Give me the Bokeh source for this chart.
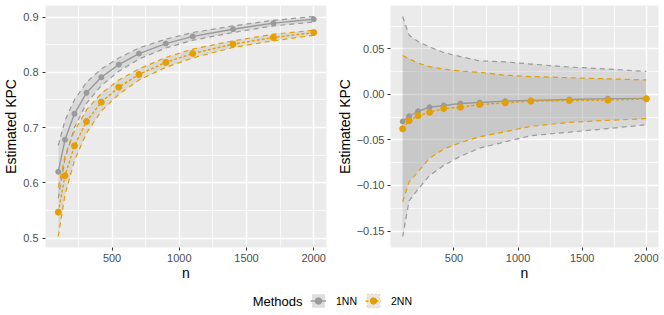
from bokeh.plotting import figure
from bokeh.models import (Range1d, FixedTicker, CustomJSTickFormatter, Legend,
                          LegendItem, Label, ColumnDataSource)
from bokeh.layouts import column, row
from bokeh.embed import file_html
from bokeh.resources import INLINE

# ---------------- data ----------------
n = [100, 150, 220, 310, 420, 550, 700, 900, 1100, 1400, 1700, 2000]

# left panel
kpc_1nn = [0.620, 0.678, 0.725, 0.763, 0.791, 0.814, 0.834, 0.852, 0.865, 0.878, 0.889, 0.896]
lo_1nn = [0.572, 0.643, 0.700, 0.744, 0.776, 0.802, 0.824, 0.844, 0.858, 0.872, 0.884, 0.891]
hi_1nn = [0.668, 0.713, 0.750, 0.782, 0.806, 0.826, 0.844, 0.860, 0.872, 0.884, 0.894, 0.901]
kpc_2nn = [0.547, 0.613, 0.667, 0.711, 0.746, 0.773, 0.796, 0.818, 0.834, 0.851, 0.863, 0.872]
lo_2nn = [0.503, 0.578, 0.640, 0.690, 0.730, 0.760, 0.786, 0.809, 0.826, 0.845, 0.857, 0.867]
hi_2nn = [0.592, 0.648, 0.694, 0.732, 0.762, 0.786, 0.806, 0.827, 0.842, 0.857, 0.869, 0.876]

# right panel
kpc_1nn_r = [-0.0297, -0.0240, -0.0185, -0.0141, -0.0122, -0.0100, -0.0089, -0.0074, -0.0067, -0.0056, -0.0047, -0.0044]
lo_1nn_r = [-0.1560, -0.1170, -0.1040, -0.0890, -0.0780, -0.0680, -0.0590, -0.0520, -0.0453, -0.0415, -0.0375, -0.0333]
hi_1nn_r = [0.0855, 0.0650, 0.0580, 0.0520, 0.0460, 0.0415, 0.0368, 0.0357, 0.0333, 0.0300, 0.0278, 0.0252]
kpc_2nn_r = [-0.0378, -0.0289, -0.0233, -0.0197, -0.0156, -0.0141, -0.0111, -0.0093, -0.0074, -0.0067, -0.0063, -0.0049]
lo_2nn_r = [-0.1180, -0.0960, -0.0850, -0.0700, -0.0600, -0.0530, -0.0465, -0.0410, -0.0350, -0.0308, -0.0285, -0.0267]
hi_2nn_r = [0.0426, 0.0390, 0.0344, 0.0305, 0.0278, 0.0256, 0.0243, 0.0210, 0.0196, 0.0183, 0.0171, 0.0159]

x_ticks = [500, 1000, 1500, 2000]
x_minor = [250, 750, 1250, 1750]
y_ticks_left = [0.5, 0.6, 0.7, 0.8, 0.9]
y_minor_left = [0.55, 0.65, 0.75, 0.85]
y_ticks_right = [-0.15, -0.10, -0.05, 0.0, 0.05]
y_minor_right = [-0.125, -0.075, -0.025, 0.025, 0.075]

methods = ["1NN", "2NN"]

# ---------------- style ----------------
GRAY = "#9A9A9A"
ORANGE = "#E69F00"
FONT = "Liberation Sans"
RIB_FILL = "#8C8C8C"
RIB_ALPHA = 0.2
PANEL_H = 290
LEG_H = 24
NAN = float("nan")


def padded(lo, hi, frac=0.05):
    r = hi - lo
    return lo - frac * r, hi + frac * r


def make_panel(width, min_left, min_right, series, yt, ym, digits, lab_standoff):
    xs, xe = padded(min(n), max(n))
    lows = [v for s in series for v in s["lo"]]
    highs = [v for s in series for v in s["hi"]]
    ys, ye = padded(min(lows), max(highs))
    p = figure(width=width, height=PANEL_H, x_range=Range1d(xs, xe),
               y_range=Range1d(ys, ye), output_backend="svg",
               toolbar_location=None, min_border_left=min_left,
               min_border_right=min_right, min_border_top=5,
               min_border_bottom=43)
    p.background_fill_color = "#EBEBEB"
    p.border_fill_color = "white"
    p.outline_line_color = None

    for s in series:
        src = ColumnDataSource(dict(x=n, lo=s["lo"], hi=s["hi"], y=s["y"]))
        s["src"] = src
        p.varea(x="x", y1="lo", y2="hi", source=src, fill_color=RIB_FILL,
                fill_alpha=RIB_ALPHA)
    for s in series:
        for col in ("lo", "hi"):
            p.line(x="x", y=col, source=s["src"], line_color=s["color"],
                   line_width=1.2, line_dash="5 4")
    for s in series:
        p.line(x="x", y="y", source=s["src"], line_color=s["color"],
               line_width=1.4, line_dash=s["dash"])
    for s in series:
        p.scatter(x="x", y="y", source=s["src"], size=s["size"],
                  fill_color=s["color"], line_color=s["color"])

    p.xaxis.ticker = FixedTicker(ticks=x_ticks, minor_ticks=x_minor)
    p.yaxis.ticker = FixedTicker(ticks=yt, minor_ticks=ym)
    p.xaxis.formatter = CustomJSTickFormatter(code="return tick.toFixed(0);")
    p.yaxis.formatter = CustomJSTickFormatter(
        code="return tick.toFixed(%d).replace('-', '\\u2212');" % digits)

    p.xaxis.axis_label = "n"
    p.yaxis.axis_label = "Estimated KPC"
    for ax in (p.xaxis, p.yaxis):
        ax.axis_line_color = None
        ax.major_tick_out = 3
        ax.major_tick_in = 0
        ax.major_tick_line_color = "#333333"
        ax.major_tick_line_width = 1
        ax.minor_tick_line_color = None
        ax.major_label_text_font = FONT
        ax.major_label_text_font_size = "11px"
        ax.major_label_text_color = "#4D4D4D"
        ax.axis_label_text_font = FONT
        ax.axis_label_text_font_size = "14px"
        ax.axis_label_text_font_style = "normal"
        ax.axis_label_text_color = "black"
    p.xaxis.major_label_standoff = 2
    p.xaxis.axis_label_standoff = 0
    p.yaxis.major_label_standoff = lab_standoff
    p.yaxis.axis_label_standoff = 1

    for g in (p.xgrid, p.ygrid):
        g.grid_line_color = "white"
        g.grid_line_width = 1.4
        g.minor_grid_line_color = "white"
        g.minor_grid_line_width = 0.7
    return p


left_series = [
    dict(y=kpc_1nn, lo=lo_1nn, hi=hi_1nn, color=GRAY, dash="solid", size=5),
    dict(y=kpc_2nn, lo=lo_2nn, hi=hi_2nn, color=ORANGE, dash="3 2", size=6),
]
right_series = [
    dict(y=kpc_1nn_r, lo=lo_1nn_r, hi=hi_1nn_r, color=GRAY, dash="solid", size=5),
    dict(y=kpc_2nn_r, lo=lo_2nn_r, hi=hi_2nn_r, color=ORANGE, dash="3 2", size=6),
]

p1 = make_panel(333, 43, 7, left_series, y_ticks_left, y_minor_left, 1, 3)
p2 = make_panel(331, 56, 6, right_series, y_ticks_right, y_minor_right, 2, 2)

# ---------------- legend ----------------
pleg = figure(width=664, height=LEG_H, output_backend="svg", toolbar_location=None,
              min_border=0, outline_line_color=None,
              x_range=Range1d(0, 1), y_range=Range1d(0, 1))
pleg.axis.visible = False
pleg.grid.visible = False
pleg.background_fill_color = "white"
pleg.border_fill_color = "white"

proxy = ColumnDataSource(dict(x=[NAN], y=[NAN]))
items = []
key_specs = [
    (methods[0], GRAY, "solid", "#DEDEDE", None, 6),
    (methods[1], ORANGE, "3 2", "#E6E6E6", "#F0D49A", 7),
]
for label, col, dash, box_fill, box_line, size in key_specs:
    box = pleg.patch(x="x", y="y", source=proxy, fill_color=box_fill,
                     line_color=box_line, line_width=1, line_dash="2 2")
    ln = pleg.line(x="x", y="y", source=proxy, line_color=col, line_width=1.4,
                   line_dash=dash)
    pt = pleg.scatter(x="x", y="y", source=proxy, size=size, fill_color=col,
                      line_color=col)
    items.append(LegendItem(label=label, renderers=[box, ln, pt]))

legend = Legend(items=items, orientation="horizontal", location=(310, 5),
                glyph_width=16, glyph_height=17, label_height=17,
                label_standoff=10, spacing=8, padding=0, margin=0,
                border_line_color=None, background_fill_alpha=0,
                label_text_font=FONT, label_text_font_size="10.5px",
                label_text_color="black")
pleg.add_layout(legend, "center")
pleg.add_layout(Label(x=302, y=13.5, x_units="screen", y_units="screen",
                      text="Methods", text_align="right",
                      text_baseline="middle", text_font=FONT,
                      text_font_size="13px", text_color="black"))

layout = column(row(p1, p2), pleg)
open("out.html", "w").write(file_html(layout, INLINE))
